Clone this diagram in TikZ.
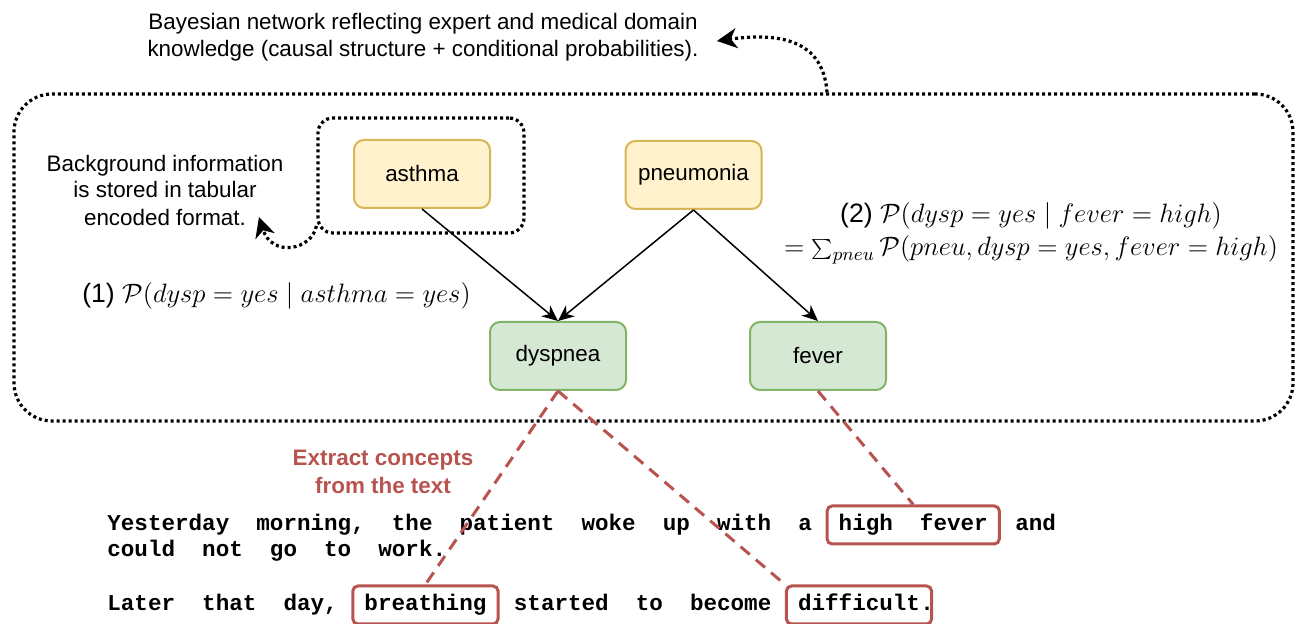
\RequirePackage{fix-cm}
\documentclass[tikz,border=0pt]{standalone}
\usepackage[no-math]{fontspec}
\setmainfont{Liberation Sans}
\newfontfamily\codefont{Liberation Mono}
\usetikzlibrary{arrows.meta}

\definecolor{yfill}{HTML}{FFF2CC}
\definecolor{ybord}{HTML}{D6B656}
\definecolor{gfill}{HTML}{D5E8D4}
\definecolor{gbord}{HTML}{82B366}
\definecolor{exred}{HTML}{B85450}

\tikzset{
  sans/.style={font=\fontsize{11.2pt}{13.5pt}\selectfont},
  var/.style={rectangle, rounded corners=5pt, line width=1pt,
    minimum width=68pt, minimum height=34pt, sans},
  cause/.style={var, draw=ybord, fill=yfill},
  effect/.style={var, draw=gbord, fill=gfill},
  dotline/.style={line width=1.6pt, dash pattern=on 1.5pt off 1.5pt},
  dotbox/.style={draw, dotline},
  link/.style={line width=0.75pt, -{Stealth[length=8pt,width=7pt,inset=2.5pt]}},
  note/.style={dotline, -{Stealth[length=10pt,width=10pt,inset=3pt]}},
  extract/.style={draw=exred, line width=1.5pt, dash pattern=on 6pt off 4pt},
  code/.style={font=\codefont\bfseries\fontsize{11.29pt}{13pt}\selectfont,
    inner sep=0pt, anchor=base west},
  wordbox/.style={code, anchor=base, draw=exred, line width=1.5pt,
    rounded corners=2.5pt, inner xsep=5.8pt, inner ysep=2pt,
    text height=10.5pt, text depth=4.5pt},
  formula/.style={font=\fontsize{13.3pt}{16pt}\selectfont, inner sep=0pt, anchor=base}
}

% column position of the monospaced text
\newcommand\colx[1]{107+#1*13.55}

\begin{document}
\begin{tikzpicture}[x=0.5pt, y=-0.5pt]
\useasboundingbox (0,0) rectangle (1296,624);

% dotted frames
\node[dotbox, rounded corners=19pt, minimum width=639.5pt, minimum height=163.5pt,
  inner sep=0pt] (bn) at (653.5,257.5) {};
\node[dotbox, rounded corners=7.5pt, minimum width=103pt, minimum height=57.5pt,
  inner sep=0pt] (tab) at (421,175.5) {};

% Bayesian network
\node[cause]  (asthma)    at (422,174)   {asthma};
\node[cause]  (pneumonia) at (693.5,175) {pneumonia};
\node[effect] (dyspnea)   at (558,356)   {dyspnea};
\node[effect] (fever)     at (818,356)   {fever};

\draw[link] (asthma.south)    -- (dyspnea.north);
\draw[link] (pneumonia.south) -- (dyspnea.north);
\draw[link] (pneumonia.south) -- (fever.north);

% annotations
\node[sans, align=center, inner xsep=9pt] (toptext) at (423,37)
  {Bayesian network reflecting expert and medical domain\\
   knowledge (causal structure + conditional probabilities).};
\draw[note] ([xshift=86.75pt]bn.north) .. controls (824,50) and (795,30) .. ([yshift=-2pt]toptext.east);

\node[sans, align=center] (bgtext) at (165,190)
  {Background information\\ is stored in tabular\\ encoded format.};
\coordinate (bgtip) at (259,217);
\draw[note] ([yshift=-25.25pt]tab.west) .. controls (312,250) and (272,258) .. (bgtip);

\node[formula] (f1) at (276.5,303)
  {(1) $\mathcal{P}(dysp = yes \mid asthma = yes)$};
\node[formula] (f2a) at (1031,223)
  {(2) $\mathcal{P}(dysp = yes \mid fever = high)$};
\node[formula] (f2b) at (1031,256)
  {$= \sum_{pneu} \mathcal{P}(pneu, dysp = yes, fever = high)$};

\node[sans, font=\fontsize{11.2pt}{14.3pt}\selectfont\bfseries, text=exred, align=center]
  (extr) at (383,472) {Extract concepts\\ from the text};

% clinical note
\node[code] (l1a) at ({\colx{0}},531) {Yesterday~~morning,~~the~~patient~~woke~~up~~with~~a};
\node[wordbox] (hf) at ({\colx{59.5}},531) {high~~fever};
\node[code] (l1b) at ({\colx{67}},531) {and};
\node[code] (l2) at ({\colx{0}},557) {could~~not~~go~~to~~work.};
\node[code] (l3a) at ({\colx{0}},611) {Later~~that~~day,};
\node[wordbox] (breath) at ({\colx{23.5}},611) {breathing};
\node[code] (l3b) at ({\colx{30}},611) {started~~to~~become};
\node[wordbox] (diff) at ({\colx{55.5}},611) {difficult};
\node[code] (l3c) at ({\colx{60}},611) {.};

% concept extraction links
\draw[extract] (dyspnea.south) -- (breath.north);
\draw[extract] (dyspnea.south) -- (diff.north west);
\draw[extract] (fever.south) -- (hf.north);
\end{tikzpicture}
\end{document}
